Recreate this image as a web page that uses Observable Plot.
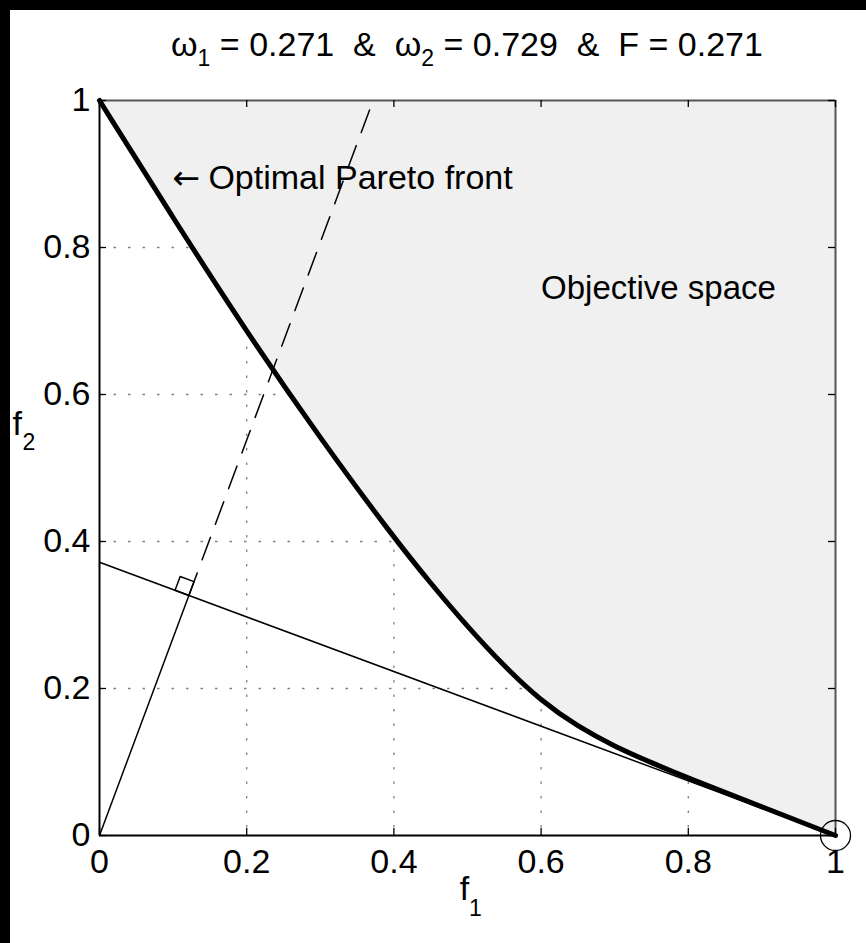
<!DOCTYPE html>
<html><head><meta charset="utf-8">
<script src="https://cdn.jsdelivr.net/npm/d3@7"></script>
<script src="https://cdn.jsdelivr.net/npm/@observablehq/plot@0.6"></script>
<style>
html,body{margin:0;padding:0;background:#fff;overflow:hidden;}
#barL{position:absolute;left:0;top:0;width:10px;height:2000px;background:#000;}
#barT{position:absolute;left:0;top:0;width:2000px;height:10px;background:#000;}
#wrap{position:absolute;left:10px;top:10px;width:1000px;height:1100px;background:#fff;font-family:"Liberation Sans",Arial,sans-serif;}
#title{position:absolute;left:457px;top:15px;transform:translateX(-50%);white-space:pre;font-size:34px;color:#000;}
#title sub{font-size:23px;vertical-align:-0.45em;}
#chart{position:absolute;left:0;top:70px;}
</style></head>
<body><div id="barL"></div><div id="barT"></div><div id="wrap"><div id="title"></div><div id="chart"></div></div>
<script>
// weights and objective value
const omega1 = 0.271;
const omega2 = 0.729;
const Fval = 0.271;
// Optimal Pareto front
const f1Front = [0, 0.1, 0.2, 0.3, 0.4, 0.45, 0.5, 0.55, 0.6, 0.65, 0.7, 0.75, 0.8, 0.9, 1];
const f2Front = [1, 0.84, 0.685, 0.54, 0.405, 0.343, 0.284, 0.23, 0.183, 0.148, 0.121, 0.099, 0.078, 0.039, 0];
// tick values
const xTicks = [0, 0.2, 0.4, 0.6, 0.8, 1];
const yTicks = [0, 0.2, 0.4, 0.6, 0.8, 1];
const gridTicks = [0.2, 0.4, 0.6, 0.8];
// annotations
const annoText = ["Optimal Pareto front", "Objective space"];
const annoF1 = [0.148, 0.6];
const annoF2 = [0.894, 0.744];
const arrowText = ["\u2190"];
const arrowF1 = [0.099];
const arrowF2 = [0.894];

document.getElementById("title").innerHTML =
  `\u03c9<sub>1</sub> = ${omega1}  &amp;  \u03c9<sub>2</sub> = ${omega2}  &amp;  F = ${Fval}`;

const front = f1Front.map((f1, i) => ({f1, f2: f2Front[i]}));
// weighted-sum line  omega1*f1 + omega2*f2 = F
const wline = [{f1: 0, f2: Fval / omega2}, {f1: Fval / omega1, f2: 0}];
// foot of the perpendicular from the origin
const nn = omega1 * omega1 + omega2 * omega2;
const foot = {f1: Fval * omega1 / nn, f2: Fval * omega2 / nn};
const toFoot = [{f1: 0, f2: 0}, foot];
const dashed = [foot, {f1: omega1 / omega2, f2: 1}];
// right-angle marker
const len = Math.sqrt(nn), s = 0.02;
const u = {x: -omega2 / len, y: omega1 / len}, v = {x: omega1 / len, y: omega2 / len};
const sq = [
  foot,
  {f1: foot.f1 + s * u.x, f2: foot.f2 + s * u.y},
  {f1: foot.f1 + s * u.x + s * v.x, f2: foot.f2 + s * u.y + s * v.y},
  {f1: foot.f1 + s * v.x, f2: foot.f2 + s * v.y},
  foot
];
const annos = annoText.map((t, i) => ({t, f1: annoF1[i], f2: annoF2[i]}));
const arrows = arrowText.map((t, i) => ({t, f1: arrowF1[i], f2: arrowF2[i]}));
const fmt = d => String(d);
const FS = 34;

const plot = Plot.plot({
  width: 856, height: 863,
  marginLeft: 89, marginRight: 31, marginTop: 20, marginBottom: 108,
  style: {fontFamily: '"Liberation Sans", Arial, sans-serif', background: "transparent", color: "#000"},
  x: {domain: [0, 1], label: null},
  y: {domain: [0, 1], label: null},
  marks: [
    Plot.gridX(gridTicks, {stroke: "#000", strokeOpacity: 0.5, strokeWidth: 1.3, strokeDasharray: "2.5,12"}),
    Plot.gridY(gridTicks, {stroke: "#000", strokeOpacity: 0.5, strokeWidth: 1.3, strokeDasharray: "2.5,12"}),
    Plot.areaY(front, {x: "f1", y1: "f2", y2: () => 1, fill: "#f0f0f0", curve: "basis"}),
    // box
    Plot.ruleY([1], {stroke: "#555", strokeWidth: 2}),
    Plot.ruleX([1], {stroke: "#555", strokeWidth: 2}),
    Plot.ruleY([0], {stroke: "#000", strokeWidth: 2}),
    Plot.ruleX([0], {stroke: "#000", strokeWidth: 2}),
    // inward ticks
    Plot.ruleX(xTicks, {x: d => d, y1: 0, y2: 0.0095, stroke: "#000", strokeWidth: 1.3}),
    Plot.ruleX(xTicks, {x: d => d, y1: 1, y2: 0.9905, stroke: "#000", strokeWidth: 1.3}),
    Plot.ruleY(yTicks, {y: d => d, x1: 0, x2: 0.0095, stroke: "#000", strokeWidth: 1.3}),
    Plot.ruleY(yTicks, {y: d => d, x1: 1, x2: 0.9905, stroke: "#000", strokeWidth: 1.3}),
    Plot.axisX(xTicks, {anchor: "bottom", tickSize: 0, tickPadding: 13, tickFormat: fmt, fontSize: FS, label: null}),
    Plot.axisY(yTicks, {anchor: "left", tickSize: 0, tickPadding: 9, tickFormat: fmt, fontSize: FS, label: null}),
    // lines
    Plot.line(wline, {x: "f1", y: "f2", stroke: "#000", strokeWidth: 1.5}),
    Plot.line(toFoot, {x: "f1", y: "f2", stroke: "#000", strokeWidth: 1.5}),
    Plot.line(dashed, {x: "f1", y: "f2", stroke: "#000", strokeWidth: 1.5, strokeDasharray: "24,14"}),
    Plot.line(sq, {x: "f1", y: "f2", stroke: "#000", strokeWidth: 1.5}),
    Plot.line(front, {x: "f1", y: "f2", stroke: "#000", strokeWidth: 5, curve: "basis"}),
    Plot.dot([{f1: 1, f2: 0}], {x: "f1", y: "f2", r: 15, stroke: "#000", strokeWidth: 1.3, fill: "none"}),
    // annotations
    Plot.text(annos.slice(0, 1), {x: "f1", y: "f2", text: "t", textAnchor: "start", fontSize: 34, fill: "#000"}),
    Plot.text(annos.slice(1), {x: "f1", y: "f2", text: "t", textAnchor: "start", fontSize: 33, fill: "#000"}),
    Plot.text(arrows, {x: "f1", y: "f2", text: "t", textAnchor: "start", fontSize: 33, fontFamily: '"DejaVu Sans", sans-serif', fill: "#000"}),
    // axis labels
    Plot.text(["f"], {frameAnchor: "bottom", text: d => d, dy: 64, dx: -3, fontSize: FS, fill: "#000"}),
    Plot.text(["1"], {frameAnchor: "bottom", text: d => d, dy: 80, dx: 8, fontSize: 23, fill: "#000"}),
    Plot.text(["f"], {frameAnchor: "left", text: d => d, dy: -44, dx: -87, fontSize: FS, fill: "#000"}),
    Plot.text(["2"], {frameAnchor: "left", text: d => d, dy: -25, dx: -77, fontSize: 23, fill: "#000"})
  ]
});
document.getElementById("chart").appendChild(plot);
</script>
</body></html>
